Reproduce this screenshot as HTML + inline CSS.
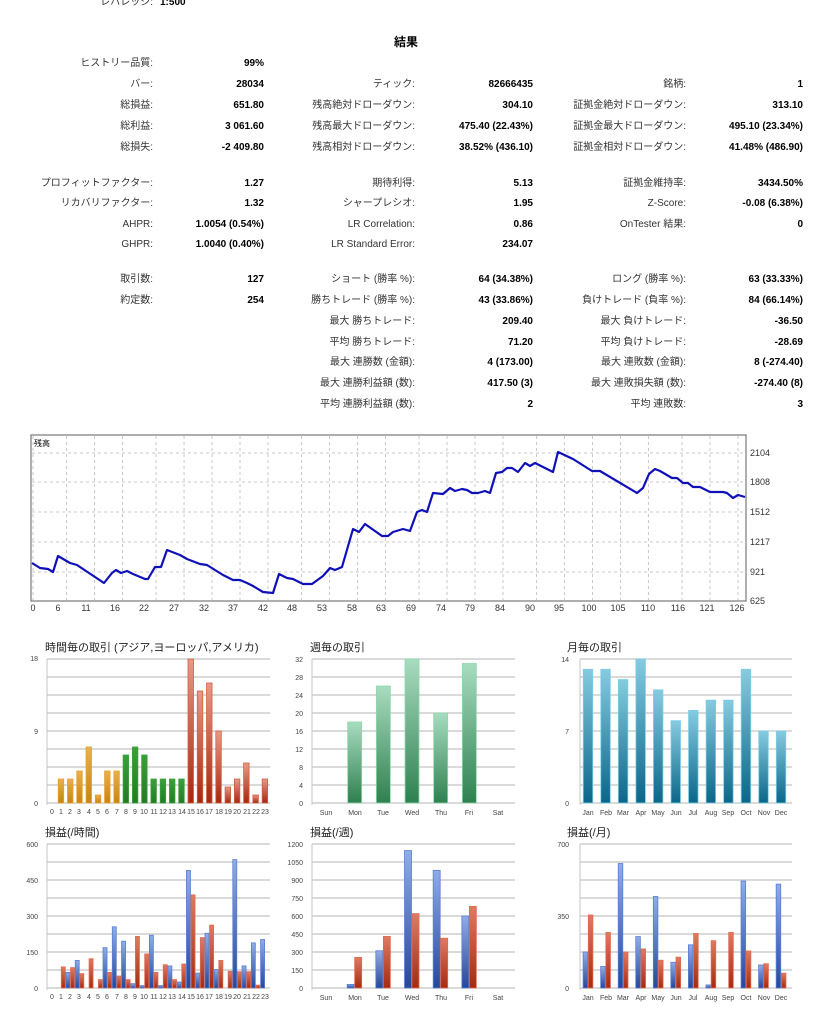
<!DOCTYPE html>
<html><head><meta charset="utf-8">
<style>
html,body{margin:0;padding:0;background:#fff;}
svg{display:block;font-family:"Liberation Sans","Noto Sans CJK JP",sans-serif;}
.l{font-size:10px;fill:#333;text-anchor:end;}
.v{font-size:10px;fill:#000;font-weight:bold;text-anchor:end;}
.t{font-size:8px;fill:#333;}
.ts{font-size:7px;fill:#444;}
.ct{font-size:11px;fill:#222;}
</style></head><body>
<svg id="s" width="831" height="1024" viewBox="0 0 831 1024" xmlns="http://www.w3.org/2000/svg">
<defs>
<linearGradient id="gO" x1="0" y1="0" x2="0" y2="1"><stop offset="0" stop-color="#eab04a"/><stop offset="1" stop-color="#c98310"/></linearGradient>
<linearGradient id="gG" x1="0" y1="0" x2="0" y2="1"><stop offset="0" stop-color="#3aa03a"/><stop offset="1" stop-color="#237a23"/></linearGradient>
<linearGradient id="gR" x1="0" y1="0" x2="0" y2="1"><stop offset="0" stop-color="#e79a88"/><stop offset="1" stop-color="#a8260e"/></linearGradient>
<linearGradient id="gW" x1="0" y1="0" x2="0" y2="1"><stop offset="0" stop-color="#a8dcc0"/><stop offset="1" stop-color="#2e8050"/></linearGradient>
<linearGradient id="gM" x1="0" y1="0" x2="0" y2="1"><stop offset="0" stop-color="#86cbe0"/><stop offset="1" stop-color="#0a6688"/></linearGradient>
<linearGradient id="gB" x1="0" y1="0" x2="0" y2="1"><stop offset="0" stop-color="#8fade8"/><stop offset="1" stop-color="#26479a"/></linearGradient>
<linearGradient id="gRR" x1="0" y1="0" x2="0" y2="1"><stop offset="0" stop-color="#e07a62"/><stop offset="1" stop-color="#a52a10"/></linearGradient>
</defs>

<text x="153" y="5" class="l">レバレッジ:</text><text x="160" y="5" class="v" style="text-anchor:start">1:500</text>
<text x="406" y="46" style="font-size:12px;font-weight:bold;text-anchor:middle">結果</text>

<g>
<text x="153" y="66" class="l">ヒストリー品質:</text><text x="264" y="66" class="v">99%</text>

<text x="153" y="87" class="l">バー:</text><text x="264" y="87" class="v">28034</text>
<text x="415" y="87" class="l">ティック:</text><text x="533" y="87" class="v">82666435</text>
<text x="686" y="87" class="l">銘柄:</text><text x="803" y="87" class="v">1</text>

<text x="153" y="108" class="l">総損益:</text><text x="264" y="108" class="v">651.80</text>
<text x="415" y="108" class="l">残高絶対ドローダウン:</text><text x="533" y="108" class="v">304.10</text>
<text x="686" y="108" class="l">証拠金絶対ドローダウン:</text><text x="803" y="108" class="v">313.10</text>

<text x="153" y="129" class="l">総利益:</text><text x="264" y="129" class="v">3 061.60</text>
<text x="415" y="129" class="l">残高最大ドローダウン:</text><text x="533" y="129" class="v">475.40 (22.43%)</text>
<text x="686" y="129" class="l">証拠金最大ドローダウン:</text><text x="803" y="129" class="v">495.10 (23.34%)</text>

<text x="153" y="150" class="l">総損失:</text><text x="264" y="150" class="v">-2 409.80</text>
<text x="415" y="150" class="l">残高相対ドローダウン:</text><text x="533" y="150" class="v">38.52% (436.10)</text>
<text x="686" y="150" class="l">証拠金相対ドローダウン:</text><text x="803" y="150" class="v">41.48% (486.90)</text>

<text x="153" y="186" class="l">プロフィットファクター:</text><text x="264" y="186" class="v">1.27</text>
<text x="415" y="186" class="l">期待利得:</text><text x="533" y="186" class="v">5.13</text>
<text x="686" y="186" class="l">証拠金維持率:</text><text x="803" y="186" class="v">3434.50%</text>

<text x="153" y="206" class="l">リカバリファクター:</text><text x="264" y="206" class="v">1.32</text>
<text x="415" y="206" class="l">シャープレシオ:</text><text x="533" y="206" class="v">1.95</text>
<text x="686" y="206" class="l">Z-Score:</text><text x="803" y="206" class="v">-0.08 (6.38%)</text>

<text x="153" y="227" class="l">AHPR:</text><text x="264" y="227" class="v">1.0054 (0.54%)</text>
<text x="415" y="227" class="l">LR Correlation:</text><text x="533" y="227" class="v">0.86</text>
<text x="686" y="227" class="l">OnTester 結果:</text><text x="803" y="227" class="v">0</text>

<text x="153" y="247" class="l">GHPR:</text><text x="264" y="247" class="v">1.0040 (0.40%)</text>
<text x="415" y="247" class="l">LR Standard Error:</text><text x="533" y="247" class="v">234.07</text>

<text x="153" y="282" class="l">取引数:</text><text x="264" y="282" class="v">127</text>
<text x="415" y="282" class="l">ショート (勝率 %):</text><text x="533" y="282" class="v">64 (34.38%)</text>
<text x="686" y="282" class="l">ロング (勝率 %):</text><text x="803" y="282" class="v">63 (33.33%)</text>

<text x="153" y="303" class="l">約定数:</text><text x="264" y="303" class="v">254</text>
<text x="415" y="303" class="l">勝ちトレード (勝率 %):</text><text x="533" y="303" class="v">43 (33.86%)</text>
<text x="686" y="303" class="l">負けトレード (負率 %):</text><text x="803" y="303" class="v">84 (66.14%)</text>

<text x="415" y="324" class="l">最大 勝ちトレード:</text><text x="533" y="324" class="v">209.40</text>
<text x="686" y="324" class="l">最大 負けトレード:</text><text x="803" y="324" class="v">-36.50</text>

<text x="415" y="345" class="l">平均 勝ちトレード:</text><text x="533" y="345" class="v">71.20</text>
<text x="686" y="345" class="l">平均 負けトレード:</text><text x="803" y="345" class="v">-28.69</text>

<text x="415" y="365" class="l">最大 連勝数 (金額):</text><text x="533" y="365" class="v">4 (173.00)</text>
<text x="686" y="365" class="l">最大 連敗数 (金額):</text><text x="803" y="365" class="v">8 (-274.40)</text>

<text x="415" y="386" class="l">最大 連勝利益額 (数):</text><text x="533" y="386" class="v">417.50 (3)</text>
<text x="686" y="386" class="l">最大 連敗損失額 (数):</text><text x="803" y="386" class="v">-274.40 (8)</text>

<text x="415" y="407" class="l">平均 連勝利益額 (数):</text><text x="533" y="407" class="v">2</text>
<text x="686" y="407" class="l">平均 連敗数:</text><text x="803" y="407" class="v">3</text>
</g>

<g id="eq"></g>
<rect x="31" y="435" width="715" height="166" fill="none" stroke="#777" stroke-width="1.2"/>
<text x="34" y="446" style="font-size:8px;fill:#000">残高</text>
<g class="t" style="font-size:9px">
<text x="750" y="456">2104</text><text x="750" y="485">1808</text><text x="750" y="515">1512</text>
<text x="750" y="545">1217</text><text x="750" y="575">921</text><text x="750" y="604">625</text>
</g>
<g class="t" style="font-size:9px;text-anchor:middle">
<text x="33" y="611">0</text><text x="58" y="611">6</text><text x="86" y="611">11</text><text x="115" y="611">16</text><text x="144" y="611">22</text><text x="174" y="611">27</text><text x="204" y="611">32</text><text x="233" y="611">37</text><text x="263" y="611">42</text><text x="292" y="611">48</text><text x="322" y="611">53</text><text x="352" y="611">58</text><text x="381" y="611">63</text><text x="411" y="611">69</text><text x="441" y="611">74</text><text x="470" y="611">79</text><text x="500" y="611">84</text><text x="530" y="611">90</text><text x="559" y="611">95</text><text x="589" y="611">100</text><text x="618" y="611">105</text><text x="648" y="611">110</text><text x="678" y="611">116</text><text x="707" y="611">121</text><text x="737" y="611">126</text>
</g>

<text x="45" y="651" class="ct">時間毎の取引 (アジア,ヨーロッパ,アメリカ)</text>
<text x="310" y="651" class="ct">週毎の取引</text>
<text x="567" y="651" class="ct">月毎の取引</text>
<text x="45" y="836" class="ct">損益(/時間)</text>
<text x="310" y="836" class="ct">損益(/週)</text>
<text x="567" y="836" class="ct">損益(/月)</text>

<g class="ts" style="text-anchor:end">
<text x="38" y="661">18</text><text x="38" y="734">9</text><text x="38" y="806">0</text>
<text x="303" y="662">32</text><text x="303" y="680">28</text><text x="303" y="698">24</text><text x="303" y="716">20</text><text x="303" y="734">16</text><text x="303" y="752">12</text><text x="303" y="770">8</text><text x="303" y="788">4</text><text x="303" y="806">0</text>
<text x="569" y="662">14</text><text x="569" y="734">7</text><text x="569" y="806">0</text>
<text x="38" y="847">600</text><text x="38" y="883">450</text><text x="38" y="919">300</text><text x="38" y="955">150</text><text x="38" y="991">0</text>
<text x="303" y="847">1200</text><text x="303" y="865">1050</text><text x="303" y="883">900</text><text x="303" y="901">750</text><text x="303" y="919">600</text><text x="303" y="937">450</text><text x="303" y="955">300</text><text x="303" y="973">150</text><text x="303" y="991">0</text>
<text x="569" y="847">700</text><text x="569" y="919">350</text><text x="569" y="991">0</text>
</g>
<g class="ts" style="text-anchor:middle">
<g><text x="52" y="814">0</text><text x="61" y="814">1</text><text x="70" y="814">2</text><text x="79" y="814">3</text><text x="89" y="814">4</text><text x="98" y="814">5</text><text x="107" y="814">6</text><text x="117" y="814">7</text><text x="126" y="814">8</text><text x="135" y="814">9</text><text x="144" y="814">10</text><text x="154" y="814">11</text><text x="163" y="814">12</text><text x="172" y="814">13</text><text x="182" y="814">14</text><text x="191" y="814">15</text><text x="200" y="814">16</text><text x="209" y="814">17</text><text x="219" y="814">18</text><text x="228" y="814">19</text><text x="237" y="814">20</text><text x="247" y="814">21</text><text x="256" y="814">22</text><text x="265" y="814">23</text></g>
<g transform="translate(0,185)"><text x="52" y="814">0</text><text x="61" y="814">1</text><text x="70" y="814">2</text><text x="79" y="814">3</text><text x="89" y="814">4</text><text x="98" y="814">5</text><text x="107" y="814">6</text><text x="117" y="814">7</text><text x="126" y="814">8</text><text x="135" y="814">9</text><text x="144" y="814">10</text><text x="154" y="814">11</text><text x="163" y="814">12</text><text x="172" y="814">13</text><text x="182" y="814">14</text><text x="191" y="814">15</text><text x="200" y="814">16</text><text x="209" y="814">17</text><text x="219" y="814">18</text><text x="228" y="814">19</text><text x="237" y="814">20</text><text x="247" y="814">21</text><text x="256" y="814">22</text><text x="265" y="814">23</text></g>
<g><text x="326" y="815">Sun</text><text x="355" y="815">Mon</text><text x="383" y="815">Tue</text><text x="412" y="815">Wed</text><text x="441" y="815">Thu</text><text x="469" y="815">Fri</text><text x="498" y="815">Sat</text></g>
<g transform="translate(0,185)"><text x="326" y="815">Sun</text><text x="355" y="815">Mon</text><text x="383" y="815">Tue</text><text x="412" y="815">Wed</text><text x="441" y="815">Thu</text><text x="469" y="815">Fri</text><text x="498" y="815">Sat</text></g>
<g><text x="588" y="815">Jan</text><text x="606" y="815">Feb</text><text x="623" y="815">Mar</text><text x="641" y="815">Apr</text><text x="658" y="815">May</text><text x="676" y="815">Jun</text><text x="693" y="815">Jul</text><text x="711" y="815">Aug</text><text x="728" y="815">Sep</text><text x="746" y="815">Oct</text><text x="764" y="815">Nov</text><text x="781" y="815">Dec</text></g>
<g transform="translate(0,185)"><text x="588" y="815">Jan</text><text x="606" y="815">Feb</text><text x="623" y="815">Mar</text><text x="641" y="815">Apr</text><text x="658" y="815">May</text><text x="676" y="815">Jun</text><text x="693" y="815">Jul</text><text x="711" y="815">Aug</text><text x="728" y="815">Sep</text><text x="746" y="815">Oct</text><text x="764" y="815">Nov</text><text x="781" y="815">Dec</text></g>
</g>
<g id="bars"></g>
</svg>
<script>
var NS="http://www.w3.org/2000/svg";
function el(p,t,a){var e=document.createElementNS(NS,t);for(var k in a)e.setAttribute(k,a[k]);p.appendChild(e);return e;}
var eq=document.getElementById('eq');
var xs=[0,6,11,16,22,27,32,37,42,48,53,58,63,69,74,79,84,90,95,100,105,110,116,121,126];
xs.forEach(function(i){var x=33+i*5.595;el(eq,'line',{x1:x,y1:436,x2:x,y2:600,stroke:'#c8c8c8','stroke-dasharray':'3,3','stroke-width':1});});
[453,482,512,542,572].forEach(function(y){el(eq,'line',{x1:32,y1:y,x2:745,y2:y,stroke:'#c8c8c8','stroke-dasharray':'3,3','stroke-width':1});});
var pts=[[32,563],[40,568],[48,569],[53,572],[58,556],[70,563],[77,565],[104,583],[112,573],[116,570],[121,573],[127,571],[133,574],[145,579],[148,579],[155,567],[161,567],[167,550],[180,555],[187,559],[200,564],[207,565],[223,575],[233,580],[240,580],[247,583],[253,586],[263,592],[273,593],[279,574],[287,578],[293,579],[303,584],[312,584],[323,576],[330,568],[335,570],[342,567],[353,529],[359,532],[365,524],[382,536],[388,536],[393,532],[403,529],[410,531],[417,512],[422,510],[427,512],[433,493],[443,494],[450,488],[455,491],[462,489],[467,490],[472,493],[478,493],[485,491],[490,493],[496,473],[502,472],[507,468],[512,468],[518,472],[525,463],[530,466],[535,463],[545,468],[553,472],[558,452],[573,459],[592,471],[600,471],[637,493],[643,488],[649,474],[655,469],[660,471],[672,478],[677,478],[683,483],[688,483],[693,487],[700,487],[710,492],[720,492],[723,492],[727,493],[733,498],[738,495],[745,497]];
el(eq,'polyline',{points:pts.map(function(p){return p.join(',')}).join(' '),fill:'none',stroke:'#1010b8','stroke-width':2.2,'stroke-linejoin':'round'});

var B=document.getElementById('bars');
function axes(l,r,top,bot,n){
  for(var i=0;i<=n;i++){var y=top+(bot-top)*i/n;el(B,'line',{x1:l,y1:y,x2:r,y2:y,stroke:'#c4c4c4','stroke-width':1.2});}
  el(B,'line',{x1:l,y1:top,x2:l,y2:bot+2,stroke:'#c4c4c4','stroke-width':1});
}
function bar(x,w,bot,h,fill,stroke){ if(h<=0)return; el(B,'rect',{x:x-w/2,y:bot-h,width:w,height:h,fill:fill,stroke:stroke,'stroke-width':0.8});}
axes(47,270,659,803,8);
var hv=[0,3,3,4,7,1,4,4,6,7,6,3,3,3,3,18,14,15,9,2,3,5,1,3];
hv.forEach(function(v,i){var c=51.7+9.27*i;var f=i<8?'url(#gO)':(i<15?'url(#gG)':'url(#gR)');var s=i<8?'#e8a030':(i<15?'#40a040':'#d06040');bar(c,5.5,803,v/18*144,f,s);});
axes(312,515,659,803,8);
var wv=[0,18,26,32,20,31,0];
wv.forEach(function(v,i){bar(326+28.67*i,14,803,v/32*144,'url(#gW)','#8ed8a8');});
axes(580,792,659,803,8);
var mv=[13,13,12,14,11,8,9,10,10,13,7,7];
mv.forEach(function(v,i){bar(588+17.55*i,9.5,803,v/14*144,'url(#gM)','#7ccce8');});
axes(47,270,844,988,8);
var hb=[[0,0],[0,88],[65,85],[115,60],[0,122],[0,35],[168,65],[255,50],[195,35],[18,215],[10,142],[220,65],[10,97],[92,35],[25,100],[490,388],[62,210],[228,262],[77,115],[0,70],[535,68],[92,68],[188,12],[202,0]];
hb.forEach(function(v,i){var c=51.7+9.27*i;bar(c-2.3,4,988,v[0]/600*144,'url(#gB)','#5a7ed0');bar(c+2.3,4,988,v[1]/600*144,'url(#gRR)','#e06a50');});
axes(312,515,844,988,8);
var wb=[[0,0],[30,255],[310,430],[1145,620],[980,415],[600,680],[0,0]];
wb.forEach(function(v,i){var c=326+28.67*i;bar(c-4,7,988,v[0]/1200*144,'url(#gB)','#5a7ed0');bar(c+3.5,7,988,v[1]/1200*144,'url(#gRR)','#e06a50');});
axes(580,792,844,988,8);
var mb=[[175,355],[105,270],[605,175],[250,190],[445,135],[125,150],[210,265],[15,230],[0,270],[520,180],[112,118],[505,72]];
mb.forEach(function(v,i){var c=588+17.55*i;bar(c-2.6,4.6,988,v[0]/700*144,'url(#gB)','#5a7ed0');bar(c+2.6,4.6,988,v[1]/700*144,'url(#gRR)','#e06a50');});
</script>
</body></html>
